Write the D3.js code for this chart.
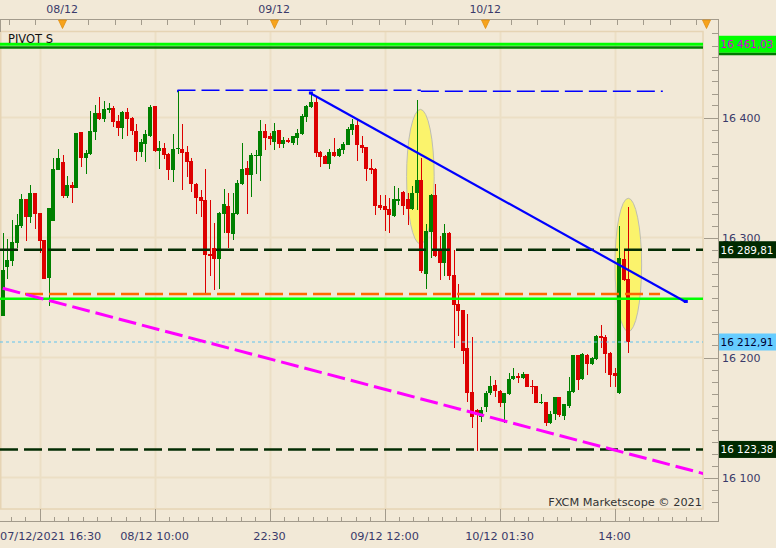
<!DOCTYPE html>
<html><head><meta charset="utf-8">
<script src="https://cdn.jsdelivr.net/npm/d3@7"></script>
<style>
body{margin:0;background:#f2e9d7;}
svg{display:block;}
text{font-family:"DejaVu Sans",sans-serif;}
</style>
</head><body>
<svg id="c" width="776" height="548"></svg>
<script>
// ---------------- DATA ----------------
const openP = [16235,16275.7,16280.7,16295.7,16309.9,16332.1,16317.4,16337.1,16320.4,16297.9,
16266.5,16314,16356.5,16362.9,16334.6,16343.8,16341.5,16387.9,16366.5,16369.9,
16388.2,16403.7,16398.8,16406.3,16407.9,16397.1,16391.5,16404.6,16399.9,16388.8,
16371.5,16378.2,16384.9,16409.6,16372.4,16374.6,16369.6,16356.5,16373.5,16373.8,
16371.3,16363.8,16344.6,16334,16331.3,16286.3,16291.3,16282.1,16319.9,16326.3,
16302.9,16319.9,16344.9,16357.9,16352.1,16368.2,16368.2,16388.8,16384.9,16379.9,
16389.6,16378.2,16381.3,16378.8,16383.2,16386.5,16400.4,16408.5,16412.6,16371.3,
16367.9,16361.3,16371.3,16367.9,16372.9,16377.4,16389.6,16393.8,16377.1,16375.4,
16357.9,16357.4,16327.4,16326.3,16323.8,16317.9,16330.7,16337.9,16332.4,16324,
16337.1,16348.2,16269.9,16304.9,16335.4,16290.4,16279,16304,16268.8,16244.6,
16239.6,16207.9,16171.3,16156.3,16150.7,16158.5,16170.1,16177.1,16172.4,16162.4,
16169.6,16181.8,16184.6,16182.6,16186.3,16176.5,16176.3,16161.8,16162.9,16145.7,
16152.9,16167.1,16151.3,16159.9,16171.3,16202.1,16181.8,16202.1,16194.6,16198.8,
16217.9,16217.1,16203.5,16186.8,16170.1,16281.8,16265.4];
const highP = [16303.5,16298.5,16314.6,16319.6,16336.3,16332.4,16343.8,16337.5,16320.6,16298.2,
16325,16366.3,16373.8,16368.8,16351,16346.3,16387.5,16388.2,16372.9,16405.4,
16410.4,16417.1,16413.8,16412.4,16409.6,16402.1,16405.7,16407.9,16400.4,16394.6,
16381.8,16389.6,16410.4,16410,16380.4,16378.8,16370.7,16386.3,16422.6,16394.6,
16376.3,16366,16345.1,16339.6,16357.1,16331.3,16311.8,16321,16340.4,16336.8,
16336.8,16347.9,16378.5,16363.8,16370.4,16373.2,16397.9,16394.3,16386.8,16395.1,
16389.8,16384,16383.2,16384.6,16390.4,16403,16410.4,16420.1,16417.4,16372.1,
16368.8,16373.5,16382.6,16374.6,16379.9,16392.4,16398.8,16398.5,16384.6,16375.7,
16365.4,16357.9,16335.4,16335.4,16332.6,16342.9,16341,16338.8,16336.8,16342.9,
16414.6,16366.5,16311.3,16336,16344.6,16301.5,16311.3,16304.9,16289.6,16261.3,
16240,16236,16217.4,16156.8,16159,16172.4,16184.6,16181.3,16172.6,16170.7,
16186.8,16191,16186.8,16188.2,16186.5,16181.3,16176.5,16169.6,16163.2,16155.7,
16167.4,16167.4,16161.5,16184,16202.4,16202.4,16203.5,16202.9,16200.7,16218.8,
16227.1,16218.8,16204.9,16191,16309.6,16290.1,16325.7];
const lowP = [16234.5,16265.1,16276.5,16291.5,16307.7,16297.4,16312.4,16307.4,16286.8,16265.5,
16243.2,16313.5,16356,16332.9,16332.9,16329,16341,16359,16352.9,16368.8,
16381.3,16397.9,16396.5,16403.5,16392.4,16384.9,16382.4,16384.9,16385.4,16364,
16367.4,16363.2,16383.5,16371,16357.1,16365.7,16347.9,16346.5,16369.6,16339.6,
16350.7,16338.2,16319.9,16317.4,16253.5,16267.9,16256.3,16257.1,16303.5,16291.5,
16297.9,16319,16344,16319.9,16334,16352.9,16347.4,16372.9,16377.1,16372.9,
16374.3,16374.3,16378.5,16377.1,16376.8,16385.4,16396.5,16407.6,16366.8,16358.5,
16361,16357.1,16367.4,16367.4,16369.6,16377.1,16385.4,16364,16370.1,16347.4,
16352.9,16319,16322.9,16305.7,16304,16317.4,16327.1,16318.8,16310.4,16322.9,
16322.9,16270.7,16257.4,16282.6,16284,16264.6,16267.9,16264.6,16207.7,16217.9,
16194.6,16163.2,16141,16122.4,16146.5,16154.9,16168.8,16167.4,16159,16145.7,
16168.8,16181.3,16179,16181.8,16175.1,16169.6,16161.8,16161.3,16142.9,16144.6,
16147.9,16150.7,16147.9,16157.6,16170.1,16172.9,16181.3,16185.4,16193.5,16197.9,
16207.6,16186.8,16175.1,16175.7,16170,16264,16204];
const closeP = [16273,16281.3,16296,16310.4,16332.1,16317.4,16337.1,16319.6,16297.4,16265.7,
16324.6,16357.1,16366.3,16334.6,16343.8,16341.5,16387.1,16366.5,16370.4,16388.8,
16403.7,16398.8,16407.1,16407.9,16396.5,16391.5,16404.6,16398.8,16388.8,16371.5,
16379.6,16386.3,16408.8,16372.1,16374.6,16369,16356.5,16373.8,16374.6,16370.7,
16362.9,16344.9,16333.2,16330.7,16285.7,16284.9,16282.1,16320.4,16327.9,16303.8,
16320.4,16345.4,16357.1,16352.1,16368.8,16369,16388.8,16383.2,16382.4,16388.8,
16378.2,16381.3,16379.6,16384.3,16387.1,16401.3,16409.6,16412.6,16370.7,16367.4,
16361.3,16371.3,16368.2,16373.8,16377.6,16390.4,16394.3,16377.1,16374.6,16357.1,
16356.3,16326.3,16324.3,16322.9,16318.8,16332.1,16332.1,16326.3,16324,16337.1,
16348.2,16272.1,16305.4,16335.2,16284.6,16279,16304,16267.9,16243.8,16238.8,
16205.7,16170.7,16150.7,16152.1,16156.3,16170.1,16176.3,16172.4,16162.4,16170.1,
16181.8,16184.6,16182.6,16186.3,16175.7,16175.7,16162.4,16163.2,16145.7,16152.9,
16167.1,16152.1,16161.3,16172.1,16202.1,16181.3,16202.9,16194.6,16199.3,16217.9,
16216.5,16202.9,16185.4,16184.6,16283.2,16264.6,16213.2];

// price levels
const pivotS = 16461.03;
const resistLevel = 16289.81;
const lastPrice = 16212.91;
const supportLevel = 16123.38;
const orangeLevel = 16252.9;
const greenLevel = 16248.9;
const orangeSpan = [4.85, 142.9];           // candle-index span
// trend lines: [index, price]
const blueTrend = [[67, 16420], [148.5, 16246.3]];
const magentaTrend = [[0, 16257.7], [152.7, 16102.9]];
const blueDashA = [[38, 16422.7], [90.9, 16422.7]];
const blueDashB = [[90.9, 16421.8], [143.5, 16421.8]];
// highlight ellipses: center index, center price, radius (index), radius (price)
const ellipseIdx = [90.8, 136];
const ellipsePrice = [16350.7, 16277.1];
const ellipseRIdx = [3.0, 2.9];
const ellipseRPrice = [56.1, 55.6];
// axes
const priceTicks = [16100, 16200, 16300, 16400];
const priceTickLabels = ["16 100", "16 200", "16 300", "16 400"];
const bottomTickIdx = [8, 33, 58, 83, 108, 133];
const bottomTickLabels = ["07/12/2021 16:30", "08/12 10:00", "22:30", "09/12 12:00", "10/12 01:30", "14:00"];
const dayIdx = [12.9, 59, 104.9, 152.9];
const dayLabels = ["08/12", "09/12", "10/12", ""];
const topTickStart = 1.35, topTickStep = 5.745;
const boxLabels = ["16 461,03", "16 289,81", "16 212,91", "16 123,38"];

// ---------------- SCALES ----------------
const svg = d3.select("#c");
const PL = 0, PR = 703, PT = 31.5, PB = 509;
const AX = 718.5;
const x = d3.scaleLinear().domain([0, 150]).range([2.7, 2.7 + 4.6 * 150]);
const y = d3.scaleLinear().domain([16100, 16400]).range([477.5, 117.5]);
const BG = "#f2e9d7", GRID = "#ecdfc5", AXC = "#a39b8c", TXT = "#3a3a6a";

svg.append("rect").attr("width", 776).attr("height", 548).attr("fill", BG);
svg.append("defs").append("clipPath").attr("id", "pc")
  .append("rect").attr("x", PL).attr("y", PT).attr("width", PR - PL).attr("height", PB - PT);

// grid
const grid = svg.append("g").attr("clip-path", "url(#pc)");
grid.selectAll(".vg").data(bottomTickIdx).join("line")
  .attr("x1", d => Math.round(x(d)) + 0.5).attr("x2", d => Math.round(x(d)) + 0.5)
  .attr("y1", PT).attr("y2", PB).attr("stroke", GRID).attr("stroke-width", 2);
grid.selectAll(".hg").data(priceTicks).join("line")
  .attr("x1", PL).attr("x2", PR).attr("y1", d => y(d)).attr("y2", d => y(d))
  .attr("stroke", GRID).attr("stroke-width", 2);
// plot frame
svg.append("rect").attr("x", PL + 0.75).attr("y", PT).attr("width", PR - PL - 0.75).attr("height", PB - PT)
  .attr("fill", "none").attr("stroke", "#e6d4b4").attr("stroke-width", 1.5);

const plot = svg.append("g").attr("clip-path", "url(#pc)");

// ellipses
plot.selectAll(".el").data(ellipseIdx).join("ellipse")
  .attr("cx", (d, i) => x(d)).attr("cy", (d, i) => y(ellipsePrice[i]))
  .attr("rx", (d, i) => x(d + ellipseRIdx[i]) - x(d))
  .attr("ry", (d, i) => y(ellipsePrice[i] - ellipseRPrice[i]) - y(ellipsePrice[i]))
  .attr("fill", "#fbf36c").attr("stroke", "#bdbdb5").attr("stroke-width", 1);

// candles
const idx = d3.range(openP.length);
const cg = plot.append("g").attr("shape-rendering", "crispEdges");
const col = i => closeP[i] >= openP[i] ? "#008000" : "#dd0000";
cg.selectAll(".wk").data(idx).join("line")
  .attr("x1", i => Math.round(x(i)) + 0.5).attr("x2", i => Math.round(x(i)) + 0.5)
  .attr("y1", i => y(highP[i])).attr("y2", i => y(lowP[i]))
  .attr("stroke", col).attr("stroke-width", 1);
cg.selectAll(".bd").data(idx).join("rect")
  .attr("x", i => Math.round(x(i)) - 2).attr("width", 4)
  .attr("y", i => y(Math.max(openP[i], closeP[i])))
  .attr("height", i => Math.max(1.5, Math.abs(y(openP[i]) - y(closeP[i]))))
  .attr("fill", col);

// level lines
function hline(p, color, w, dash, x1, x2) {
  plot.append("line").attr("x1", x1 == null ? PL : x1).attr("x2", x2 == null ? PR : x2)
    .attr("y1", y(p)).attr("y2", y(p)).attr("stroke", color).attr("stroke-width", w)
    .attr("stroke-dasharray", dash || null);
}
hline(lastPrice, "#5fc3f0", 1, "3,3");
hline(resistLevel, "#032d03", 2.5, "18,6");
hline(supportLevel, "#032d03", 2.5, "18,6");
hline(orangeLevel, "#ff6a00", 2.5, "18,6", x(orangeSpan[0]), x(orangeSpan[1]));
hline(greenLevel, "#00ff00", 2.5, null);
// pivot line (double tone)
plot.append("line").attr("x1", PL).attr("x2", PR).attr("y1", y(pivotS) + 3.2).attr("y2", y(pivotS) + 3.2)
  .attr("stroke", "#007a00").attr("stroke-width", 2.5);
plot.append("line").attr("x1", PL).attr("x2", PR).attr("y1", y(pivotS)).attr("y2", y(pivotS))
  .attr("stroke", "#00ff00").attr("stroke-width", 3);

// trend lines
const line = d3.line().x(d => x(d[0])).y(d => y(d[1]));
plot.append("path").attr("d", line(magentaTrend)).attr("stroke", "#ff00ff").attr("stroke-width", 3)
  .attr("stroke-dasharray", "18,6").attr("fill", "none");
plot.append("path").attr("d", line(blueDashA)).attr("stroke", "#0000ff").attr("stroke-width", 1.5)
  .attr("stroke-dasharray", "18,6").attr("fill", "none");
plot.append("path").attr("d", line(blueDashB)).attr("stroke", "#0000ff").attr("stroke-width", 1.5)
  .attr("stroke-dasharray", "18,6").attr("fill", "none");
plot.append("line").attr("x1", x(blueDashA[0][0])).attr("x2", x(blueDashA[0][0]))
  .attr("y1", y(blueDashA[0][1])).attr("y2", y(blueDashA[0][1]) + 2).attr("stroke", "#0000ff");
plot.append("path").attr("d", line(blueTrend)).attr("stroke", "#0000ff").attr("stroke-width", 2.2)
  .attr("fill", "none");
plot.selectAll(".bt").data(blueTrend).join("rect")
  .attr("x", d => x(d[0]) - 2).attr("y", d => y(d[1]) - 2).attr("width", 4).attr("height", 3)
  .attr("fill", "#0000ff");

// labels inside plot
svg.append("text").attr("x", 8).attr("y", 43).attr("font-size", 11.5).attr("fill", "#111").text("PIVOT S");
svg.append("text").attr("x", 702).attr("y", 506).attr("text-anchor", "end").attr("font-size", 11.3)
  .attr("fill", "#333").text("FXCM Marketscope © 2021");

// ---------------- AXES ----------------
const ax = svg.append("g").attr("shape-rendering", "crispEdges");
// top axis
ax.append("line").attr("x1", 0).attr("x2", AX).attr("y1", 19.5).attr("y2", 19.5).attr("stroke", AXC);
ax.append("line").attr("x1", 0.5).attr("x2", 0.5).attr("y1", 19.5).attr("y2", PT).attr("stroke", AXC);
const topTicks = d3.range(topTickStart, 152, topTickStep);
ax.selectAll(".tt").data(topTicks).join("line")
  .attr("x1", d => Math.round(x(d)) + 0.5).attr("x2", d => Math.round(x(d)) + 0.5)
  .attr("y1", 19.5).attr("y2", 24.5).attr("stroke", AXC);
svg.selectAll(".tri").data(dayIdx).join("path")
  .attr("d", d => { const c = Math.round(x(d)) + 0.5; return `M${c - 4},20 L${c + 4},20 L${c},28.5 Z`; })
  .attr("fill", "#f7a31c").attr("stroke", "#e08e10").attr("stroke-width", 0.8);
svg.selectAll(".dl").data(dayIdx).join("text")
  .attr("x", d => x(d)).attr("y", 13).attr("text-anchor", "middle").attr("font-size", 11)
  .attr("fill", TXT).text((d, i) => dayLabels[i]);

// bottom axis
ax.append("line").attr("x1", 0).attr("x2", AX).attr("y1", 521.5).attr("y2", 521.5).attr("stroke", AXC);
const minorB = d3.range(bottomTickIdx[0] - 25 / 8 * 2, 153, 25 / 8);
ax.selectAll(".mb").data(minorB).join("line")
  .attr("x1", d => Math.round(x(d)) + 0.5).attr("x2", d => Math.round(x(d)) + 0.5)
  .attr("y1", 517).attr("y2", 521.5).attr("stroke", AXC);
ax.selectAll(".Mb").data(bottomTickIdx).join("line")
  .attr("x1", d => Math.round(x(d)) + 0.5).attr("x2", d => Math.round(x(d)) + 0.5)
  .attr("y1", PB).attr("y2", 521.5).attr("stroke", AXC);
svg.selectAll(".bl").data(bottomTickIdx).join("text")
  .attr("x", (d, i) => i === 0 ? 0 : x(d)).attr("y", 540)
  .attr("text-anchor", (d, i) => i === 0 ? "start" : "middle")
  .attr("font-size", 11.3).attr("fill", TXT).text((d, i) => bottomTickLabels[i]);

// right axis
ax.append("line").attr("x1", AX).attr("x2", AX).attr("y1", 19.5).attr("y2", 521.5).attr("stroke", AXC);
const minorP = d3.range(16080, 16480, 10);
ax.selectAll(".mp").data(minorP).join("line")
  .attr("x1", 711.5).attr("x2", AX).attr("y1", d => Math.round(y(d)) + 0.5).attr("y2", d => Math.round(y(d)) + 0.5)
  .attr("stroke", AXC);
ax.selectAll(".Mp").data(priceTicks).join("line")
  .attr("x1", 704).attr("x2", AX).attr("y1", d => Math.round(y(d)) + 0.5).attr("y2", d => Math.round(y(d)) + 0.5)
  .attr("stroke", AXC);
svg.selectAll(".pl").data(priceTicks).join("text")
  .attr("x", 722).attr("y", d => y(d) + 4.5).attr("font-size", 11).attr("fill", TXT)
  .text((d, i) => priceTickLabels[i]);

// right side price boxes
const boxPrices = [pivotS, resistLevel, lastPrice, supportLevel];
const boxFill = ["#00ff00", "#002a00", "#66ccff", "#002a00"];
const boxText = ["#d800d8", "#ffffff", "#000033", "#ffffff"];
const bx = svg.append("g");
bx.selectAll("rect").data(boxPrices).join("rect")
  .attr("x", 719).attr("width", 57).attr("y", d => y(d) - 8.5).attr("height", 17)
  .attr("fill", (d, i) => boxFill[i]);
bx.append("rect").attr("x", 719).attr("width", 57).attr("y", y(pivotS) + 8.5).attr("height", 2.5).attr("fill", "#007a00");
bx.selectAll("text").data(boxPrices).join("text")
  .attr("x", 720.5).attr("y", d => y(d) + 4).attr("font-size", 10.3)
  .attr("textLength", 53).attr("lengthAdjust", "spacingAndGlyphs")
  .attr("fill", (d, i) => boxText[i]).text((d, i) => boxLabels[i]);
</script>
</body></html>
